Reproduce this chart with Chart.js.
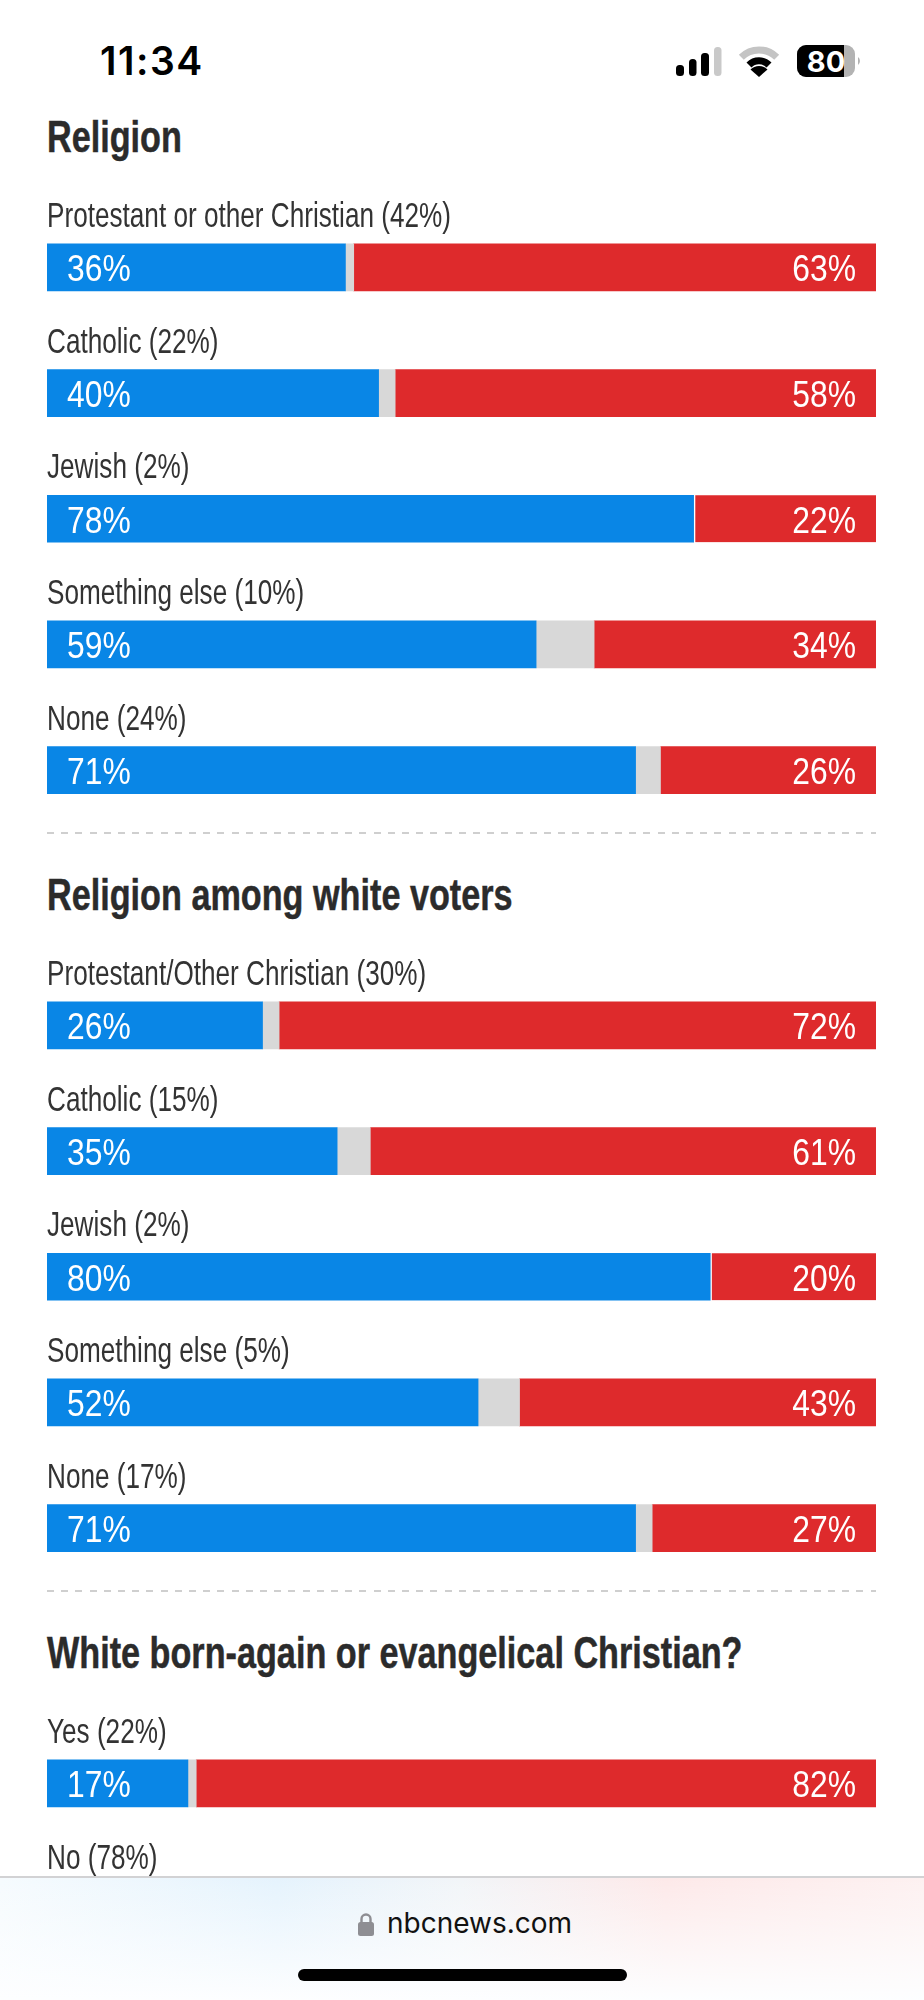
<!DOCTYPE html>
<html>
<head>
<meta charset="utf-8">
<title>Religion exit poll</title>
<script src="https://cdn.jsdelivr.net/npm/chart.js@4"></script>
<style>
  html, body { margin: 0; padding: 0; background: #fff; }
  #page { position: relative; width: 924px; height: 2000px; overflow: hidden; }
  canvas { position: absolute; left: 0; }
  h2 {
    position: absolute; left: 47px; margin: 0; white-space: nowrap;
    font: bold 45px/50px "Liberation Sans", sans-serif;
    color: #2b2b2b; transform: scaleX(0.76); transform-origin: 0 0;
    -webkit-text-stroke: 0.5px #2b2b2b;
  }
  .dash {
    position: absolute; left: 47px; width: 829px; height: 2px;
    background: repeating-linear-gradient(to right, #cfcfcf 0 7px, transparent 7px 14.2px);
  }
  #time {
    position: absolute; left: 100px; top: 38px; letter-spacing: 1.5px;
    font: 600 39px/46px Inter, sans-serif; color: #000;
  }
  #status { position: absolute; left: 0; top: 0; }
  #footer {
    position: absolute; left: 0; top: 1876px; width: 924px; height: 124px; z-index: 5;
    border-top: 2px solid #d2d2d4; box-sizing: border-box;
    background: linear-gradient(to bottom, rgba(255,255,255,0), #fdfeff 100%),
      linear-gradient(to right, #f6fbfe 0, #e5f3fd 30%, #f2f5f8 50%, #fde9e9 72%, #fdf1f1 100%);
  }
  #site {
    position: absolute; left: 387px; top: 25px;
    font: 400 28px/40px Inter, sans-serif; color: #111;
  }
  #home { position: absolute; left: 298px; top: 91px; width: 329px; height: 12px; border-radius: 6px; background: #000; }
</style>
</head>
<body>
<div id="page">
  <div id="time">11:34</div>
  <svg id="status" width="924" height="90">
    <rect x="676" y="65" width="8" height="11" rx="3.5" fill="#000"/>
    <rect x="689" y="59" width="7.5" height="17" rx="3.5" fill="#000"/>
    <rect x="701" y="53" width="8" height="23" rx="3.5" fill="#000"/>
    <rect x="714" y="47" width="7.5" height="29" rx="3.5" fill="#c9c9c9"/>
    <path d="M741.3 57.3 A25 25 0 0 1 776.7 57.3" fill="none" stroke="#c4c4c4" stroke-width="7"/>
    <path d="M749 65 A14 14 0 0 1 769 65" fill="none" stroke="#000" stroke-width="7"/>
    <path d="M759 77 L750.5 69.5 A12 12 0 0 1 767.5 69.5 Z" fill="#000"/>
    <rect x="797" y="45" width="58" height="32" rx="9" fill="#b3b3b3"/>
    <path d="M806 45 H844 V77 H806 A9 9 0 0 1 797 68 V54 A9 9 0 0 1 806 45 Z" fill="#000"/>
    <path d="M858 57 A5 5 0 0 1 858 65 Z" fill="#b3b3b3"/>
    <text x="826" y="72" text-anchor="middle" font-family="Inter" font-weight="700" font-size="29" fill="#fff">80</text>
  </svg>

  <h2 style="top:112px">Religion</h2>
  <canvas id="religion" style="top:165px"></canvas>
  <div class="dash" style="top:832px"></div>
  <h2 style="top:870px">Religion among white voters</h2>
  <canvas id="white" style="top:923px"></canvas>
  <div class="dash" style="top:1590px"></div>
  <h2 style="top:1628px">White born-again or evangelical Christian?</h2>
  <canvas id="evangelical" style="top:1681px"></canvas>

  <div id="footer">
    <svg width="30" height="40" style="position:absolute;left:352px;top:30px">
      <path d="M9.5 15 V11 A4 4 0 0 1 18.5 11 V15" fill="none" stroke="#8e8e93" stroke-width="2.4"/>
      <rect x="6" y="14" width="16" height="14" rx="2.5" fill="#8e8e93"/>
    </svg>
    <div id="site">nbcnews.com</div>
    <div id="home"></div>
  </div>
</div>
<script>
const religionLabels = ["Protestant or other Christian (42%)", "Catholic (22%)", "Jewish (2%)", "Something else (10%)", "None (24%)"];
const religionDem = [36, 40, 78, 59, 71];
const religionOther = [1, 2, 0, 7, 3];
const religionRep = [63, 58, 22, 34, 26];

const whiteLabels = ["Protestant/Other Christian (30%)", "Catholic (15%)", "Jewish (2%)", "Something else (5%)", "None (17%)"];
const whiteDem = [26, 35, 80, 52, 71];
const whiteOther = [2, 4, 0, 5, 2];
const whiteRep = [72, 61, 20, 43, 27];

// the No row is hidden behind the browser bar, only its label shows
const evangelicalLabels = ["Yes (22%)", "No (78%)"];
const evangelicalDem = [17, null];
const evangelicalOther = [1, null];
const evangelicalRep = [82, null];

const BLUE = "#0986e6";
const GREY = "#d8d8d8";
const RED = "#de2a2c";
const ROW = 125.75;
const BAR = 47;
const TOP_PAD = 39.5;

// the condensed look of the original: squeeze a plain sans
function narrowText(ctx, text, x, y, font, scale, color, align) {
  ctx.save();
  ctx.font = font;
  ctx.fillStyle = color;
  ctx.textAlign = align;
  ctx.textBaseline = "alphabetic";
  ctx.translate(x, y);
  ctx.scale(scale, 1);
  ctx.fillText(text, 0, 0);
  ctx.restore();
}

const rowText = {
  id: "rowText",
  afterDatasetsDraw(chart) {
    const { ctx, scales } = chart;
    const dem = chart.data.datasets[0].data;
    const rep = chart.data.datasets[2].data;
    chart.data.labels.forEach((label, i) => {
      const mid = scales.y.getPixelForValue(i);
      const top = mid - BAR / 2;
      narrowText(ctx, label, scales.x.getPixelForValue(0), top - 17,
        '35px "Liberation Sans", sans-serif', 0.747, "#333", "left");
      if (dem[i] === null) return;
      const valueFont = '37px "Liberation Sans", sans-serif';
      narrowText(ctx, dem[i] + "%", scales.x.getPixelForValue(0) + 20, mid + 14, valueFont, 0.86, "#fff", "left");
      narrowText(ctx, rep[i] + "%", scales.x.getPixelForValue(100) - 20, mid + 14, valueFont, 0.86, "#fff", "right");
    });
  },
};

function makeSection(id, labels, dem, other, rep) {
  const canvas = document.getElementById(id);
  canvas.width = 924;
  canvas.height = Math.round(labels.length * ROW + TOP_PAD);
  const shared = { barThickness: BAR, categoryPercentage: 1, barPercentage: 1 };
  new Chart(canvas, {
    type: "bar",
    data: {
      labels: labels,
      datasets: [
        { label: "Harris", data: dem, backgroundColor: BLUE, ...shared },
        { label: "Other", data: other, backgroundColor: GREY, ...shared },
        {
          label: "Trump",
          data: rep,
          backgroundColor: RED,
          borderColor: "#fff",
          borderSkipped: false,
          // no grey part: the bars are split by a thin white line
          borderWidth: (c) => (other[c.dataIndex] === 0 ? { left: 2, right: 0, top: 0, bottom: 0 } : 0),
          ...shared,
        },
      ],
    },
    options: {
      indexAxis: "y",
      responsive: false,
      animation: false,
      layout: { padding: { left: 47, right: 48, top: TOP_PAD, bottom: 0 } },
      plugins: { legend: { display: false }, tooltip: { enabled: false } },
      scales: {
        x: { display: false, stacked: true, min: 0, max: 100 },
        y: { display: false, stacked: true },
      },
    },
    plugins: [rowText],
  });
}

makeSection("religion", religionLabels, religionDem, religionOther, religionRep);
makeSection("white", whiteLabels, whiteDem, whiteOther, whiteRep);
makeSection("evangelical", evangelicalLabels, evangelicalDem, evangelicalOther, evangelicalRep);
</script>
</body>
</html>
